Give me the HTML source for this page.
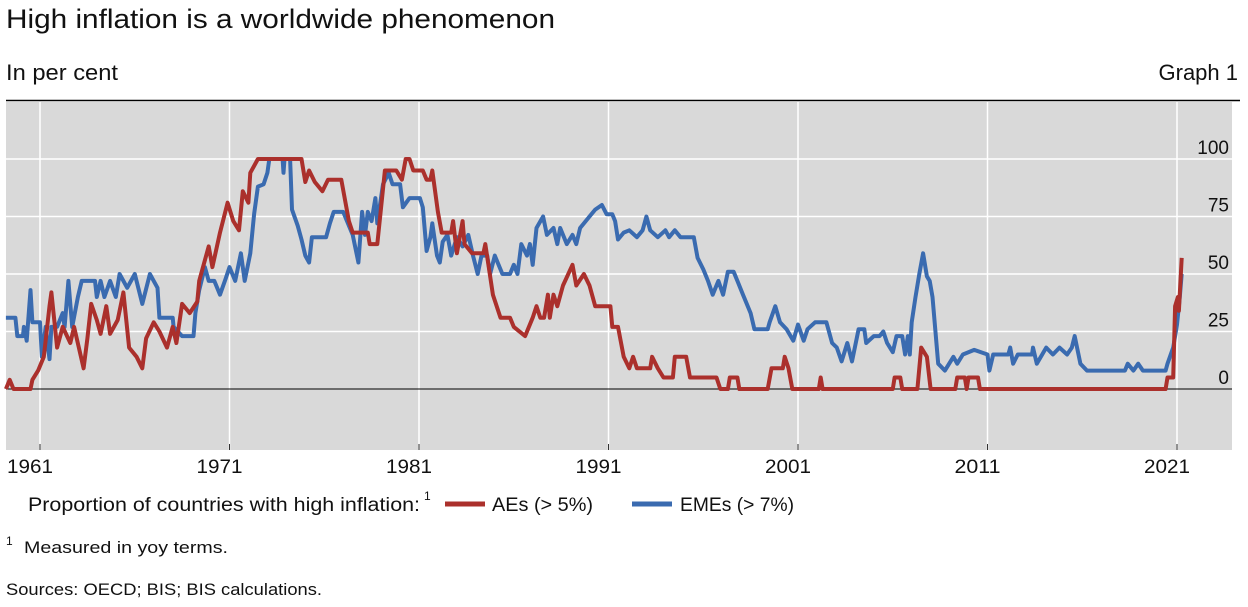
<!DOCTYPE html>
<html><head><meta charset="utf-8"><style>
html,body{margin:0;padding:0;background:#fff;}
svg{display:block;font-family:"Liberation Sans",sans-serif;}
</style></head><body>
<svg id="chart" width="1248" height="607" viewBox="0 0 1248 607" xmlns="http://www.w3.org/2000/svg">
<text x="6" y="28" font-size="27" fill="#111" textLength="549" lengthAdjust="spacingAndGlyphs">High inflation is a worldwide phenomenon</text>
<text x="6" y="80" font-size="22" fill="#111" textLength="112" lengthAdjust="spacingAndGlyphs">In per cent</text>
<text x="1238" y="80" font-size="22" fill="#111" text-anchor="end">Graph 1</text>
<line x1="6" y1="100.5" x2="1240" y2="100.5" stroke="#000" stroke-width="1.5"/>
<rect x="6" y="102" width="1226" height="348" fill="#d9d9d9"/>
<g id="grid"></g>
<g id="series"></g>
<g id="labels"></g>
<g>
<text x="28" y="511" font-size="19" fill="#111" textLength="392" lengthAdjust="spacingAndGlyphs">Proportion of countries with high inflation:</text>
<text x="424" y="500" font-size="12" fill="#111">1</text>
<line x1="445" y1="504" x2="485" y2="504" stroke="#ab302c" stroke-width="5"/>
<text x="492" y="511" font-size="19" fill="#111" textLength="101" lengthAdjust="spacingAndGlyphs">AEs (&gt; 5%)</text>
<line x1="632" y1="504" x2="672" y2="504" stroke="#3a6bb0" stroke-width="5"/>
<text x="680" y="511" font-size="19" fill="#111" textLength="114" lengthAdjust="spacingAndGlyphs">EMEs (&gt; 7%)</text>
</g>
<text x="6" y="545" font-size="12" fill="#111">1</text>
<text x="24" y="553" font-size="17" fill="#111" textLength="204" lengthAdjust="spacingAndGlyphs">Measured in yoy terms.</text>
<text x="6" y="595" font-size="17" fill="#111" textLength="316" lengthAdjust="spacingAndGlyphs">Sources: OECD; BIS; BIS calculations.</text>
</svg>
<script>
const yTicks=[0,25,50,75,100];
const yTickLabels=["0","25","50","75","100"];
const xTicks=[1961,1971,1981,1991,2001,2011,2021];
const xTickLabels=["1961","1971","1981","1991","2001","2011","2021"];
const aeYears=[1959.2,1959.4,1959.6,1960.5,1960.6,1960.9,1961.2,1961.5,1961.6,1961.9,1962.2,1962.6,1962.8,1963.3,1963.5,1963.7,1964.0,1964.2,1964.5,1964.7,1965.1,1965.4,1965.7,1966.1,1966.4,1966.6,1967.0,1967.3,1967.7,1968.0,1968.2,1968.5,1968.9,1969.3,1969.4,1969.9,1970.1,1970.5,1970.9,1971.2,1971.5,1971.7,1972.0,1972.1,1972.5,1974.8,1975.0,1975.2,1975.5,1975.9,1976.2,1976.9,1977.3,1977.5,1978.3,1978.4,1978.8,1979.2,1979.8,1980.1,1980.3,1980.5,1980.7,1981.2,1981.4,1981.6,1981.7,1982.0,1982.2,1982.7,1982.8,1983.0,1983.3,1983.4,1983.8,1984.4,1984.5,1984.9,1985.3,1985.8,1986.0,1986.6,1987.0,1987.2,1987.4,1987.6,1987.8,1987.9,1988.1,1988.3,1988.6,1989.1,1989.3,1989.7,1990.0,1990.3,1991.1,1991.2,1991.5,1991.8,1992.1,1992.3,1992.5,1993.2,1993.3,1993.6,1993.9,1994.4,1994.5,1995.1,1995.3,1996.7,1996.9,1997.3,1997.4,1997.8,1997.9,1999.4,1999.6,2000.2,2000.3,2000.5,2000.7,2002.1,2002.2,2002.3,2006.0,2006.1,2006.4,2006.5,2007.3,2007.5,2007.8,2008.0,2009.3,2009.4,2009.8,2009.9,2010.0,2010.5,2010.6,2020.4,2020.5,2020.8,2020.9,2021.05,2021.1,2021.25];
const aeValues=[0,4,0,0,4,8,14,36,42,18,27,20,27,9,22,37,30,24,36,24,30,42,18,14,9,22,29,25,18,27,20,37,33,38,47,62,53,68,81,73,69,86,81,94,100,100,90,95,90,86,91,91,73,68,68,63,63,95,95,91,100,100,95,95,91,91,95,77,68,68,73,59,73,63,59,59,63,41,31,31,27,23,31,36,31,31,41,31,41,36,45,54,45,50,45,36,36,27,27,14,9,14,9,9,14,9,5,5,14,14,5,5,0,0,5,5,0,0,9,9,14,9,0,0,5,0,0,5,5,0,0,18,14,0,0,5,5,0,5,5,0,0,5,5,36,40,34,57];
const emeYears=[1959.2,1959.7,1959.8,1960.1,1960.15,1960.3,1960.5,1960.6,1961.0,1961.1,1961.3,1961.5,1961.6,1961.9,1962.2,1962.3,1962.5,1962.7,1963.0,1963.2,1963.9,1964.0,1964.2,1964.4,1964.7,1965.0,1965.2,1965.6,1966.0,1966.4,1966.8,1967.2,1967.3,1968.0,1968.05,1968.5,1969.1,1969.2,1969.4,1969.7,1969.9,1970.2,1970.5,1970.8,1971.0,1971.3,1971.6,1971.8,1972.1,1972.3,1972.5,1972.8,1973.0,1973.1,1973.8,1973.85,1973.9,1974.2,1974.3,1974.6,1974.8,1975.0,1975.2,1975.35,1976.1,1976.3,1976.5,1977.0,1977.2,1977.5,1977.8,1978.0,1978.15,1978.3,1978.5,1978.7,1978.8,1979.1,1979.4,1979.6,1980.0,1980.15,1980.5,1981.05,1981.2,1981.4,1981.6,1981.7,1981.95,1982.1,1982.25,1982.5,1982.7,1983.0,1983.3,1983.6,1983.85,1984.1,1984.3,1984.6,1984.75,1985.0,1985.4,1985.8,1986.0,1986.2,1986.4,1986.7,1986.85,1987.0,1987.2,1987.55,1987.75,1988.1,1988.3,1988.45,1988.8,1989.1,1989.3,1989.5,1990.0,1990.3,1990.65,1990.9,1991.2,1991.35,1991.5,1991.8,1992.1,1992.5,1992.8,1993.0,1993.2,1993.6,1994.0,1994.2,1994.5,1994.8,1995.3,1995.5,1995.7,1996.0,1996.25,1996.5,1996.8,1997.05,1997.3,1997.6,1997.8,1998.1,1998.5,1998.7,1999.4,1999.5,1999.8,2000.05,2000.4,2000.75,2001.0,2001.3,2001.5,2001.9,2002.3,2002.5,2002.8,2003.05,2003.3,2003.6,2003.85,2004.2,2004.5,2004.6,2005.0,2005.3,2005.5,2005.7,2006.0,2006.2,2006.5,2006.65,2006.8,2006.9,2007.0,2007.2,2007.4,2007.6,2007.8,2007.95,2008.1,2008.4,2008.75,2009.2,2009.4,2009.7,2010.3,2011.0,2011.1,2011.3,2012.1,2012.2,2012.35,2012.6,2013.35,2013.4,2013.6,2014.1,2014.45,2014.8,2015.2,2015.45,2015.6,2015.9,2016.25,2018.25,2018.4,2018.7,2018.95,2019.2,2020.4,2020.5,2020.8,2021.0,2021.15,2021.25];
const emeValues=[31,31,23,23,27,21,43,29,29,14,27,13,27,27,33,27,47,27,40,47,47,40,47,40,47,40,50,44,50,37,50,44,31,31,27,23,23,33,43,53,47,47,41,48,53,47,59,47,59,76,88,89,94,100,100,94,100,100,78,71,65,58,55,66,66,72,77,77,73,67,55,77,67,77,73,83,72,89,94,89,89,79,83,83,79,60,66,72,58,55,64,67,58,66,62,67,58,50,58,58,50,58,50,50,54,50,63,58,63,54,70,75,67,70,63,70,63,67,63,70,75,78,80,76,76,73,65,68,69,66,69,75,69,66,69,66,69,66,66,66,57,52,47,41,47,41,51,51,47,41,33,26,26,29,36,29,26,21,28,21,26,29,29,29,20,18,12,20,12,26,26,20,23,23,25,20,16,23,23,15,23,15,29,40,50,59,49,47,40,11,8,14,11,15,17,15,8,15,15,18,11,15,15,18,11,18,15,18,15,18,23,11,8,8,11,8,11,8,8,11,18,28,40,50];

const NS='http://www.w3.org/2000/svg';
function xScale(yr){return 40+(yr-1961)*18.95;}
function yScale(v){return 389-v*2.3;}
const grid=document.getElementById('grid');
const series=document.getElementById('series');
const labels=document.getElementById('labels');
function mk(tag,attrs,parent){const e=document.createElementNS(NS,tag);for(const k in attrs)e.setAttribute(k,attrs[k]);parent.appendChild(e);return e;}
xTicks.forEach((t,i)=>{
  const x=xScale(t);
  const g=mk('line',{x1:x,y1:102,x2:x,y2:450,stroke:'#fff','stroke-width':1.5},grid);
  
  
  const tk=mk('line',{x1:x,y1:444,x2:x,y2:450,stroke:'#333','stroke-width':1},grid);
  
  
  const lb=mk('text',{x:x-10,y:473,'font-size':19,fill:'#111','text-anchor':'middle',textLength:46,lengthAdjust:'spacingAndGlyphs'},labels);
  
  
  lb.textContent=xTickLabels[i];
});
yTicks.forEach((t,i)=>{
  const y=yScale(t);
  if(t!==0){
    const g=mk('line',{x1:6,y1:y,x2:1232,y2:y,stroke:'#fff','stroke-width':1.5},grid);
    
    
  }
  const lb=mk('text',{x:1229,y:y-5,'font-size':19,fill:'#111','text-anchor':'end'},labels);
  
  
  lb.textContent=yTickLabels[i];
});
const zl=mk('line',{x1:6,y1:yScale(0),x2:1232,y2:yScale(0),stroke:'#000','stroke-width':1},grid);


function drawLine(xs,vs,color,name){
  const pts=xs.map((yr,i)=>xScale(yr).toFixed(1)+','+yScale(vs[i]).toFixed(1)).join(' ');
  const p=mk('polyline',{points:pts,fill:'none',stroke:color,'stroke-width':4,'stroke-linejoin':'round'},series);
  
  
}
drawLine(emeYears,emeValues,'#3a6bb0','eme-line');
drawLine(aeYears,aeValues,'#ab302c','ae-line');
</script>
</body></html>
